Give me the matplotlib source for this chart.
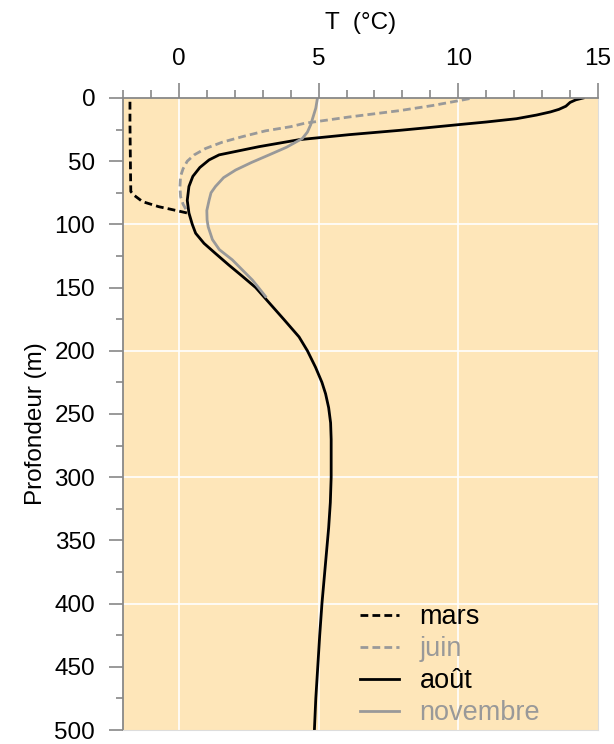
import matplotlib.pyplot as plt
from matplotlib.ticker import MultipleLocator

plt.rcParams['font.family'] = ['Liberation Sans', 'DejaVu Sans']

# Data: temperature profiles (T in °C) vs depth (m)
mars_depth = [3, 20, 40, 60, 74, 77, 82, 86, 88, 91]
mars_temp = [-1.75, -1.75, -1.74, -1.73, -1.72, -1.6, -1.3, -0.72, -0.3, 0.3]

juin_depth = [0.5, 2, 6, 10, 15, 20, 22.7, 26, 30.6, 35, 40, 45, 50, 56, 62, 70,
              78, 84, 90]
juin_temp = [10.4, 10.05, 9.07, 7.9, 6.1, 4.5, 4.0, 3.1, 2.27, 1.55, 0.95, 0.55,
             0.3, 0.15, 0.06, 0.04, 0.06, 0.15, 0.3]

aout_depth = [0, 1.5, 3.5, 6.5, 9, 11, 13.5, 16.4, 19, 21, 23.5, 25.6, 29, 33,
              38.5, 45, 49, 55, 62, 70, 81, 91, 100, 107, 115, 123, 132, 141,
              150, 160, 175, 189, 200, 213, 225, 234, 245, 257, 270, 285, 300,
              320, 340, 360, 380, 400, 425, 450, 475, 500]
aout_temp = [14.47, 14.2, 14.0, 13.85, 13.6, 13.3, 12.8, 12.08, 11.0, 10.05, 8.9,
             7.9, 6.1, 4.3, 2.87, 1.44, 1.08, 0.75, 0.5, 0.36, 0.30, 0.36, 0.48,
             0.6, 0.9, 1.31, 1.78, 2.27, 2.75, 3.15, 3.75, 4.3, 4.6, 4.89, 5.12,
             5.25, 5.36, 5.43, 5.45, 5.45, 5.45, 5.42, 5.36, 5.28, 5.2, 5.12,
             5.04, 4.97, 4.9, 4.85]

nov_depth = [0, 8, 21, 27, 32, 39, 45, 51, 57, 63, 70, 75, 81, 89,
             96.5, 102, 112, 120, 128, 136, 144, 150, 157]
nov_temp = [4.96, 4.9, 4.72, 4.6, 4.42, 3.85, 3.23, 2.6, 2.03, 1.6, 1.31,
            1.15, 1.08, 1.0, 1.01, 1.05, 1.2, 1.45, 1.91, 2.27, 2.63, 2.85, 3.1]

bg = '#FEE6B9'
grey = '#999999'
axis_grey = '#888888'
fs = 17.5

fig = plt.figure(figsize=(6.14, 7.44), dpi=100)
ax = fig.add_axes([0.2003, 0.0188, 0.7737, 0.8495])
ax.set_facecolor(bg)

ax.plot(mars_temp, mars_depth, color='black', lw=2.0, ls=(0, (2.8, 1.5)), label='mars')
ax.plot(juin_temp, juin_depth, color=grey, lw=2.0, ls=(0, (2.8, 1.5)), label='juin')
ax.plot(aout_temp, aout_depth, color='black', lw=2.0, label='août')
ax.plot(nov_temp, nov_depth, color=grey, lw=2.0, label='novembre')

ax.set_xlim(-2, 15)
ax.set_ylim(500, 0)

ax.xaxis.set_ticks_position('top')
ax.xaxis.set_label_position('top')
ax.xaxis.set_major_locator(MultipleLocator(5))
ax.xaxis.set_minor_locator(MultipleLocator(1))
ax.yaxis.set_major_locator(MultipleLocator(50))
ax.yaxis.set_minor_locator(MultipleLocator(25))

ax.tick_params(which='major', length=11, width=1.2, color=axis_grey,
               labelsize=fs, pad=9)
ax.tick_params(which='minor', length=6, width=1.2, color=axis_grey)
ax.tick_params(axis='y', which='major', length=10, pad=10)
ax.tick_params(axis='y', which='minor', length=5)

for x in [0, 5, 10]:
    ax.axvline(x, color='white', lw=1.2, zorder=0.5)
for y in [100, 200, 300, 400]:
    ax.axhline(y, color='white', lw=1.2, zorder=0.5)

ax.spines['top'].set_color(axis_grey)
ax.spines['left'].set_color(axis_grey)
ax.spines['top'].set_linewidth(1.3)
ax.spines['left'].set_linewidth(1.3)
ax.spines['right'].set_color('#dddddd')
ax.spines['bottom'].set_color('#dddddd')
ax.spines['right'].set_linewidth(0.8)
ax.spines['bottom'].set_linewidth(0.8)

ax.set_xlabel('T  (°C)', fontsize=fs, labelpad=14)
ax.set_ylabel('Profondeur (m)', fontsize=fs, labelpad=9)
ax.yaxis.set_label_coords(-0.16, 0.485)

leg = ax.legend(loc='lower left', bbox_to_anchor=(0.499, 0.006), frameon=False,
                fontsize=19.5, handlelength=1.45, handletextpad=0.75,
                labelspacing=0.22, borderpad=0, borderaxespad=0)
for text, line in zip(leg.get_texts(), leg.get_lines()):
    text.set_color(line.get_color())

fig.savefig('out.png', dpi=100, facecolor='white')
